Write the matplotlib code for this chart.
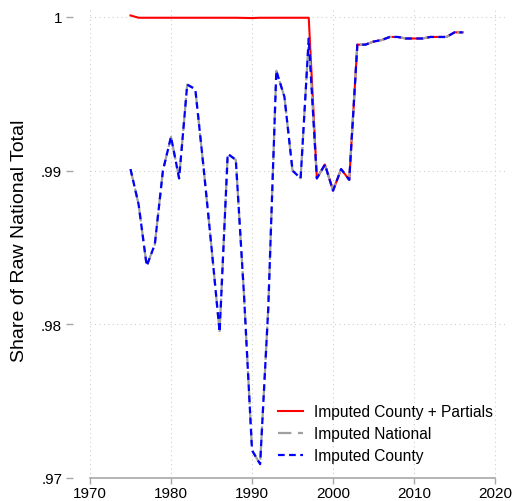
import numpy as np
import matplotlib
matplotlib.use("Agg")
import matplotlib.pyplot as plt

plt.rcParams["font.family"] = ["Liberation Sans", "DejaVu Sans"]

# ---- data -------------------------------------------------------------------
years = list(range(1975, 2017))

county = [0.9901, 0.9878, 0.9838, 0.9852, 0.9900, 0.9922, 0.9895, 0.9956,
          0.9953, 0.9903, 0.9850, 0.9795, 0.9911, 0.9907, 0.9820, 0.9718,
          0.9709, 0.9810, 0.9965, 0.9948, 0.9900, 0.9895, 0.9986, 0.9895,
          0.9904, 0.9887, 0.9901, 0.9894, 0.9982, 0.9982, 0.9984, 0.9985,
          0.9987, 0.9987, 0.9986, 0.9986, 0.9986, 0.9987, 0.9987, 0.9987,
          0.9990, 0.9990]

national = list(county)

partials = [1.0001, 0.99995, 0.99995, 0.99995, 0.99995, 0.99995, 0.99995,
            0.99995, 0.99995, 0.99995, 0.99995, 0.99995, 0.99995, 0.99995,
            0.99994, 0.99993, 0.99995, 0.99995, 0.99995, 0.99995, 0.99995,
            0.99995, 0.99995] + county[23:]

xticks = [1970, 1980, 1990, 2000, 2010, 2020]
yticks = [0.97, 0.98, 0.99, 1.0]
ylabels = [".97", ".98", ".99", "1"]

# ---- figure -----------------------------------------------------------------
fig = plt.figure(figsize=(5.14, 5.02), dpi=100)
ax = fig.add_axes([90 / 514, 23 / 502, 416 / 514, 471 / 502])

ax.plot(years, partials, color="#ff0000", lw=1.5, label="Imputed County + Partials", zorder=3)
ax.plot(years, national, color="#a0a0a0", lw=1.6, dashes=(6, 3),
        label="Imputed National", zorder=4)
ax.plot(years, county, color="#0000ff", lw=1.6, dashes=(3, 2),
        label="Imputed County", zorder=5)

ax.set_xlim(1970, 2021.35)
ax.set_ylim(0.97, 1.00065)
ax.set_xticks(xticks)
ax.set_yticks(yticks, ylabels)

ax.grid(True, color="#cfcfcf", ls=(0, (1, 3)), lw=0.8)
for s in ["top", "right"]:
    ax.spines[s].set_visible(False)
ax.spines["left"].set_position(("outward", 12))
ax.spines["left"].set_visible(False)
ax.spines["bottom"].set_bounds(1970, 2020)
ax.spines["bottom"].set_color("#a8a8a8")
ax.spines["bottom"].set_linewidth(1.2)

ax.tick_params(axis="y", length=5, width=1, color="#a8a8a8", pad=3, labelsize=11)
ax.tick_params(axis="x", length=4, width=1, color="#a8a8a8", pad=2, labelsize=11)

ax.set_ylabel("Share of Raw National Total", fontsize=14)
ax.yaxis.set_label_coords(-0.149, 0.505)

ax.legend(loc="upper left", bbox_to_anchor=(278 / 514, (502 - 405) / 502),
          bbox_transform=fig.transFigure, frameon=False, fontsize=11.2,
          handlelength=1.6, handletextpad=0.74, labelspacing=0.45, borderpad=0,
          borderaxespad=0)

fig.savefig("out.png", dpi=100)
